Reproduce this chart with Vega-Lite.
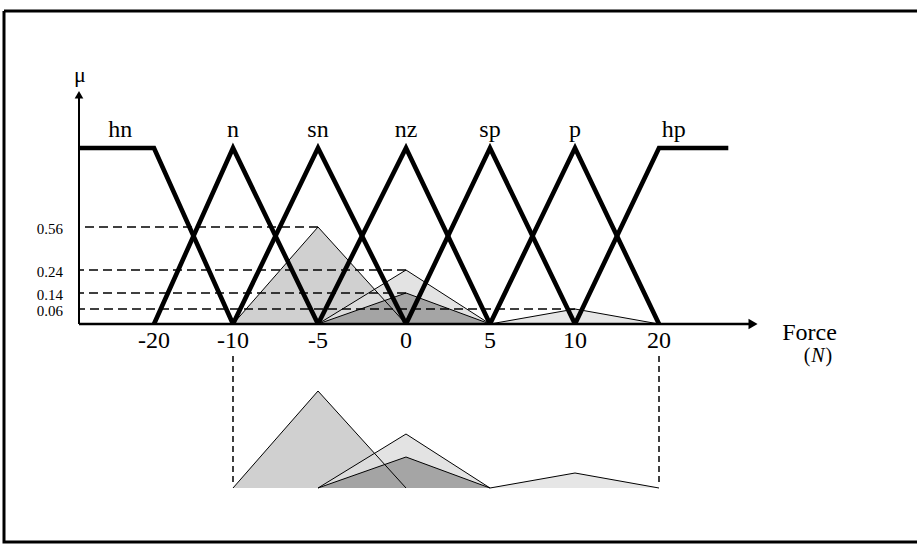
{
  "$schema": "https://vega.github.io/schema/vega-lite/v6.json",
  "width": 913,
  "height": 531,
  "autosize": {"type": "none"},
  "padding": {"left": 4, "top": 11, "right": 0, "bottom": 2},
  "background": "white",
  "config": {
    "view": {"stroke": "black", "strokeWidth": 3, "strokeDash": [913, 531, 1444, 0]},
    "text": {"font": "Liberation Serif", "color": "black"}
  },
  "datasets": {
    "mf": [
      {"set": "hn", "force": -30, "mu": 1, "k": 0},
      {"set": "hn", "force": -20, "mu": 1, "k": 1},
      {"set": "hn", "force": -10, "mu": 0, "k": 2},
      {"set": "n", "force": -20, "mu": 0, "k": 0},
      {"set": "n", "force": -10, "mu": 1, "k": 1},
      {"set": "n", "force": -5, "mu": 0, "k": 2},
      {"set": "sn", "force": -10, "mu": 0, "k": 0},
      {"set": "sn", "force": -5, "mu": 1, "k": 1},
      {"set": "sn", "force": 0, "mu": 0, "k": 2},
      {"set": "nz", "force": -5, "mu": 0, "k": 0},
      {"set": "nz", "force": 0, "mu": 1, "k": 1},
      {"set": "nz", "force": 5, "mu": 0, "k": 2},
      {"set": "sp", "force": 0, "mu": 0, "k": 0},
      {"set": "sp", "force": 5, "mu": 1, "k": 1},
      {"set": "sp", "force": 10, "mu": 0, "k": 2},
      {"set": "p", "force": 5, "mu": 0, "k": 0},
      {"set": "p", "force": 10, "mu": 1, "k": 1},
      {"set": "p", "force": 20, "mu": 0, "k": 2},
      {"set": "hp", "force": 10, "mu": 0, "k": 0},
      {"set": "hp", "force": 20, "mu": 1, "k": 1},
      {"set": "hp", "force": 27, "mu": 1, "k": 2}
    ],
    "fired": [
      {"rule": "a", "force": -10, "mu": 0},
      {"rule": "a", "force": -5, "mu": 0.56},
      {"rule": "a", "force": 0, "mu": 0},
      {"rule": "b", "force": -5, "mu": 0},
      {"rule": "b", "force": 0, "mu": 0.24},
      {"rule": "b", "force": 5, "mu": 0},
      {"rule": "c", "force": -5, "mu": 0},
      {"rule": "c", "force": 0, "mu": 0.14},
      {"rule": "c", "force": 5, "mu": 0},
      {"rule": "d", "force": 5, "mu": 0},
      {"rule": "d", "force": 10, "mu": 0.06},
      {"rule": "d", "force": 20, "mu": 0}
    ],
    "levels": [
      {"mu": 0.56, "xend": -5},
      {"mu": 0.24, "xend": 0},
      {"mu": 0.14, "xend": 0},
      {"mu": 0.06, "xend": 10}
    ],
    "ticks": [
      {"force": -20}, {"force": -10}, {"force": -5}, {"force": 0},
      {"force": 5}, {"force": 10}, {"force": 20}
    ],
    "labels": [
      {"set": "hn", "force": -24.5},
      {"set": "n", "force": -10},
      {"set": "sn", "force": -5},
      {"set": "nz", "force": 0},
      {"set": "sp", "force": 5},
      {"set": "p", "force": 10},
      {"set": "hp", "force": 21.5}
    ],
    "bounds": [{"force": -10}, {"force": 20}],
    "one": [{"x": 0}]
  },
  "layer": [
    {
      "data": {"name": "fired"},
      "mark": {"type": "area", "fillOpacity": 0.85},
      "encoding": {
        "x": {"field": "force", "type": "quantitative", "axis": null, "scale": {"domain": [-30, -20, -10, -5, 0, 5, 10, 20, 30, 40], "range": [75, 150, 229, 314, 402, 486, 571, 655, 754, 853], "nice": false, "zero": false}},
        "y": {"field": "mu", "type": "quantitative", "axis": null, "scale": {"domain": [0, 0.06, 0.14, 0.24, 0.56, 1, 1.3], "range": [313, 298, 282, 259, 216, 137, 82], "nice": false, "zero": false}},
        "y2": {"datum": 0},
        "color": {"field": "rule", "type": "nominal", "legend": null, "scale": {"domain": ["a", "b", "c", "d"], "range": ["#c8c8c8", "#dedede", "#9a9a9a", "#e2e2e2"]}}
      }
    },
    {
      "data": {"name": "fired"},
      "mark": {"type": "line", "color": "black", "strokeWidth": 1},
      "encoding": {
        "x": {"field": "force", "type": "quantitative"},
        "y": {"field": "mu", "type": "quantitative"},
        "detail": {"field": "rule", "type": "nominal"}
      }
    },
    {
      "data": {"name": "fired"},
      "mark": {"type": "area", "fillOpacity": 0.85, "yOffset": 164, "y2Offset": 164},
      "encoding": {
        "x": {"field": "force", "type": "quantitative"},
        "y": {"field": "mu", "type": "quantitative"},
        "y2": {"datum": 0},
        "color": {"field": "rule", "type": "nominal", "legend": null}
      }
    },
    {
      "data": {"name": "fired"},
      "mark": {"type": "line", "color": "black", "strokeWidth": 1, "yOffset": 164},
      "encoding": {
        "x": {"field": "force", "type": "quantitative"},
        "y": {"field": "mu", "type": "quantitative"},
        "detail": {"field": "rule", "type": "nominal"}
      }
    },
    {
      "data": {"name": "bounds"},
      "mark": {"type": "rule", "color": "black", "strokeWidth": 1.5, "strokeDash": [6, 4], "yOffset": 164, "y2Offset": 164},
      "encoding": {
        "x": {"field": "force", "type": "quantitative"},
        "y": {"datum": 0.024, "type": "quantitative"},
        "y2": {"datum": 0.76}
      }
    },
    {
      "data": {"name": "levels"},
      "mark": {"type": "rule", "color": "black", "strokeWidth": 1.6, "strokeDash": [9, 5]},
      "encoding": {
        "x": {"field": "xend", "type": "quantitative"},
        "x2": {"datum": -30},
        "y": {"field": "mu", "type": "quantitative"}
      }
    },
    {
      "data": {"name": "mf"},
      "mark": {"type": "line", "color": "black", "strokeWidth": 4.6, "strokeJoin": "miter"},
      "encoding": {
        "x": {"field": "force", "type": "quantitative"},
        "y": {"field": "mu", "type": "quantitative"},
        "detail": {"field": "set", "type": "nominal"},
        "order": {"field": "k", "type": "quantitative"}
      }
    },
    {
      "data": {"name": "one"},
      "mark": {"type": "rule", "color": "black", "strokeWidth": 2.5},
      "encoding": {
        "x": {"datum": -30, "type": "quantitative"},
        "x2": {"datum": 29.4},
        "y": {"datum": 0, "type": "quantitative"}
      }
    },
    {
      "data": {"name": "one"},
      "mark": {"type": "rule", "color": "black", "strokeWidth": 2},
      "encoding": {
        "x": {"datum": -30, "type": "quantitative"},
        "y": {"datum": 0, "type": "quantitative"},
        "y2": {"datum": 1.28}
      }
    },
    {
      "data": {"name": "one"},
      "mark": {"type": "point", "shape": "triangle-right", "filled": true, "color": "black", "size": 110, "opacity": 1},
      "encoding": {
        "x": {"datum": 29.5, "type": "quantitative"},
        "y": {"datum": 0, "type": "quantitative"}
      }
    },
    {
      "data": {"name": "one"},
      "mark": {"type": "point", "shape": "triangle-up", "filled": true, "color": "black", "size": 75, "opacity": 1},
      "encoding": {
        "x": {"datum": -30, "type": "quantitative"},
        "y": {"datum": 1.29, "type": "quantitative"}
      }
    },
    {
      "data": {"name": "one"},
      "mark": {"type": "text", "fontSize": 22, "baseline": "alphabetic", "align": "center", "text": "μ", "dx": 1, "dy": -13},
      "encoding": {
        "x": {"datum": -30, "type": "quantitative"},
        "y": {"datum": 1.29, "type": "quantitative"}
      }
    },
    {
      "data": {"name": "one"},
      "mark": {"type": "text", "fontSize": 24, "baseline": "alphabetic", "align": "center", "text": "Force", "dx": 2, "dy": 16},
      "encoding": {
        "x": {"datum": 35, "type": "quantitative"},
        "y": {"datum": 0, "type": "quantitative"}
      }
    },
    {
      "data": {"name": "one"},
      "mark": {"type": "text", "fontSize": 20, "baseline": "alphabetic", "align": "right", "text": "(", "dx": 3, "dy": 38},
      "encoding": {
        "x": {"datum": 35, "type": "quantitative"},
        "y": {"datum": 0, "type": "quantitative"}
      }
    },
    {
      "data": {"name": "one"},
      "mark": {"type": "text", "fontSize": 20, "fontStyle": "italic", "baseline": "alphabetic", "align": "center", "text": "N", "dx": 10.5, "dy": 38},
      "encoding": {
        "x": {"datum": 35, "type": "quantitative"},
        "y": {"datum": 0, "type": "quantitative"}
      }
    },
    {
      "data": {"name": "one"},
      "mark": {"type": "text", "fontSize": 20, "baseline": "alphabetic", "align": "left", "text": ")", "dx": 18, "dy": 38},
      "encoding": {
        "x": {"datum": 35, "type": "quantitative"},
        "y": {"datum": 0, "type": "quantitative"}
      }
    },
    {
      "data": {"name": "ticks"},
      "mark": {"type": "text", "fontSize": 24, "baseline": "alphabetic", "align": "center", "dy": 24},
      "encoding": {
        "x": {"field": "force", "type": "quantitative"},
        "y": {"datum": 0, "type": "quantitative"},
        "text": {"field": "force", "type": "nominal"}
      }
    },
    {
      "data": {"name": "levels"},
      "mark": {"type": "text", "fontSize": 15, "baseline": "middle", "align": "right", "dx": -16, "dy": 2},
      "encoding": {
        "x": {"datum": -30, "type": "quantitative"},
        "y": {"field": "mu", "type": "quantitative"},
        "text": {"field": "mu", "type": "quantitative", "format": ".2f"}
      }
    },
    {
      "data": {"name": "labels"},
      "mark": {"type": "text", "fontSize": 24, "baseline": "alphabetic", "align": "center", "dy": -11},
      "encoding": {
        "x": {"field": "force", "type": "quantitative"},
        "y": {"datum": 1, "type": "quantitative"},
        "text": {"field": "set", "type": "nominal"}
      }
    }
  ]
}
